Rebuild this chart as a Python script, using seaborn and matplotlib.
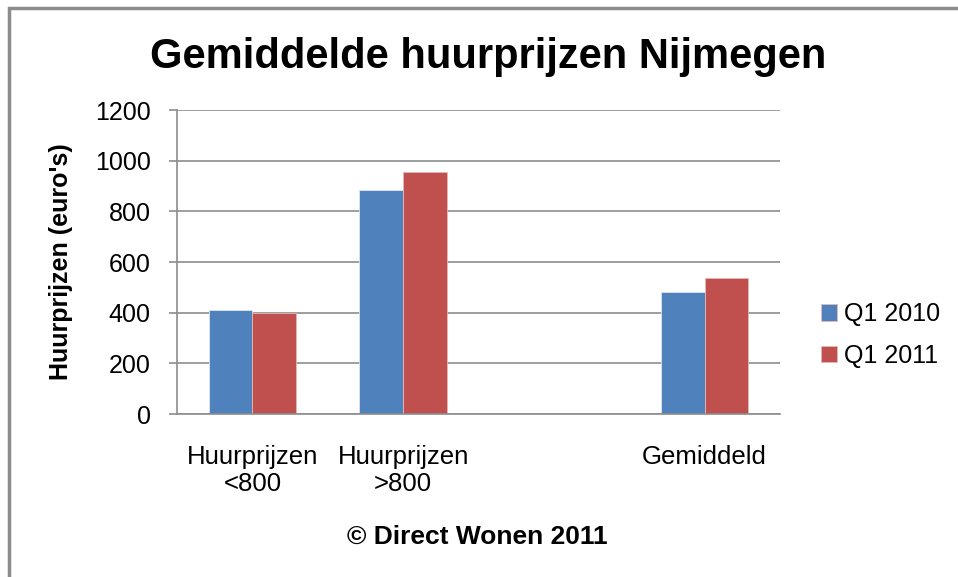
import pandas as pd
import numpy as np
import seaborn as sns
import matplotlib.pyplot as plt
from matplotlib.patches import Rectangle

# data
categories = ["Huurprijzen\n<800", "Huurprijzen\n>800", " ", "Gemiddeld"]
series = ["Q1 2010", "Q1 2011"]
q1_2010 = [410, 884, 482]
q1_2011 = [400, 955, 536]
data_cats = ["Huurprijzen\n<800", "Huurprijzen\n>800", "Gemiddeld"]
yticks = [0, 200, 400, 600, 800, 1000, 1200]

df = pd.DataFrame({
    "cat": data_cats * 2,
    "serie": [series[0]] * 3 + [series[1]] * 3,
    "waarde": q1_2010 + q1_2011,
})

sns.set_theme(style="white")
plt.rcParams['font.family'] = ['Liberation Sans', 'DejaVu Sans']
plt.rcParams['text.color'] = 'black'
plt.rcParams['axes.labelcolor'] = 'black'

fig = plt.figure(figsize=(9.58, 5.77), dpi=100)
ax = fig.add_axes([177/958, 1-414/577, (780-177)/958, (414-110)/577])

sns.barplot(data=df, x="cat", y="waarde", hue="serie", order=categories,
            hue_order=series, palette=["#4F81BD", "#C0504D"], width=0.58,
            saturation=1, errorbar=None, ax=ax, linewidth=0.6,
            edgecolor="#dde6f0")
for p in ax.patches[3:]:
    p.set_edgecolor("#e8b8b6")

ax.set_ylim(0, 1200)
ax.set_yticks(yticks)
ax.set_xlim(-0.5, 3.5)
ax.yaxis.grid(True, color="#8c8c8c", linewidth=1.2)
ax.set_axisbelow(True)
for s in ["top", "right"]:
    ax.spines[s].set_visible(False)
for s in ["left", "bottom"]:
    ax.spines[s].set_color("#8c8c8c")
    ax.spines[s].set_linewidth(1.2)

ax.tick_params(axis="y", length=6, width=1.2, color="#8c8c8c", pad=13,
               labelsize=18, direction="out", left=True, labelcolor="black")
ax.tick_params(axis="x", length=0, pad=22, labelsize=18.5, labelcolor="black")
ax.set_xlabel("")
ax.set_ylabel("Huurprijzen (euro's)", fontsize=18, fontweight="bold",
              color="black")
ax.yaxis.set_label_coords(-0.173, 0.5)

leg = ax.legend(loc="center left", bbox_to_anchor=(1.03, 0.26), frameon=False,
                fontsize=18, handlelength=0.65, handleheight=0.65,
                handletextpad=0.3, labelspacing=0.7)
for t in leg.get_texts():
    t.set_color("black")

fig.text(488/958, 1-57/577, "Gemiddelde huurprijzen Nijmegen", fontsize=30,
         fontweight="bold", ha="center", va="center", color="black")
fig.text(477/958, 1-537/577, "\u00a9 Direct Wonen 2011", fontsize=19,
         fontweight="bold", ha="center", va="center", color="black")

fig.patches.append(Rectangle((9/958, -0.05), 1.0, 1-8/577 + 0.05,
                             transform=fig.transFigure, fill=False,
                             edgecolor="#8c8c8c", linewidth=2.5))

fig.savefig("out.png", dpi=100)
